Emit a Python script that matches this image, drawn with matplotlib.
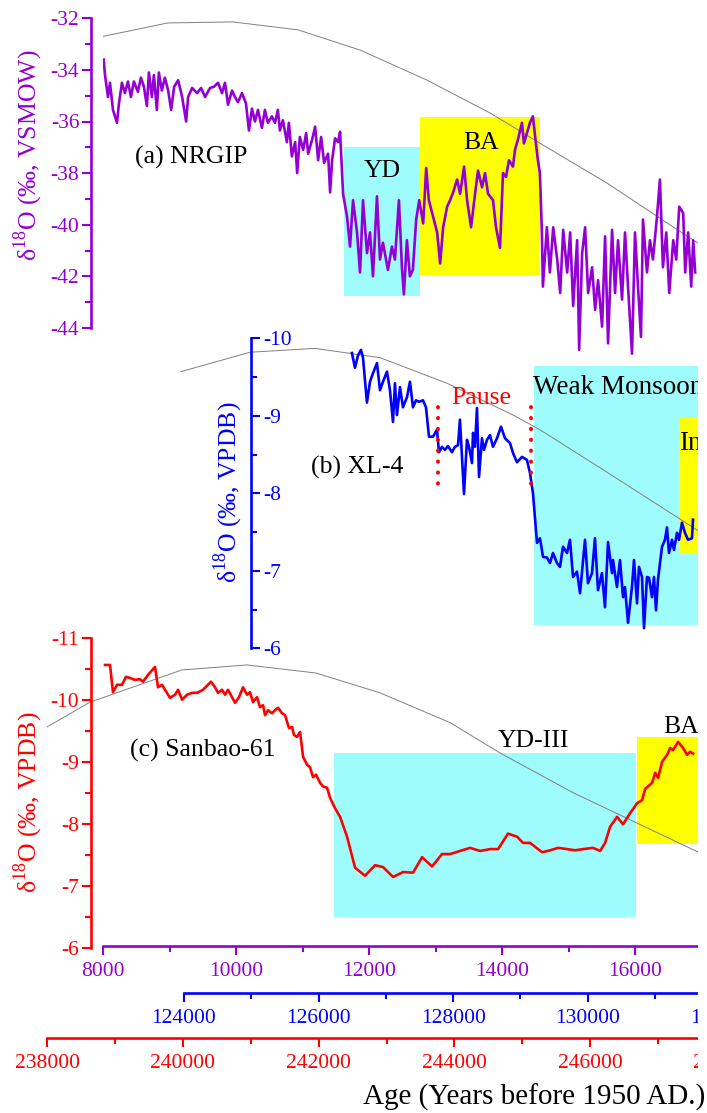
import matplotlib as mpl

mpl.use("Agg")
import matplotlib.pyplot as plt
import numpy as np
from matplotlib.patches import Rectangle
from matplotlib.ticker import FixedLocator

plt.rcParams["font.family"] = ["Liberation Serif", "DejaVu Serif"]
plt.rcParams["mathtext.fontset"] = "custom"
plt.rcParams["mathtext.rm"] = "Liberation Serif"
plt.rcParams["axes.unicode_minus"] = False

PURPLE = "#9400d3"
BLUE = "#0000ff"
RED = "#ff0000"
CYAN = "#9ffcfc"
YELLOW = "#ffff00"
GREY = "#808080"

# (a) NGRIP ice core, years BP
ngrip_age = [
    8010, 8030, 8075, 8105, 8150, 8210, 8240, 8285, 8330, 8375, 8420, 8465, 8525,
    8570, 8615, 8660, 8690, 8735, 8765, 8810, 8840, 8885, 8930, 8980, 9025, 9070,
    9130, 9190, 9250, 9280, 9340, 9415, 9475, 9535, 9610, 9670, 9730, 9790, 9835,
    9880, 9940, 9985, 10030, 10090, 10150, 10195, 10240, 10285, 10330, 10390,
    10435, 10480, 10540, 10585, 10630, 10660, 10705, 10765, 10795, 10840, 10890,
    10920, 10960, 11010, 11055, 11085, 11145, 11190, 11235, 11280, 11325, 11385,
    11415, 11445, 11490, 11535, 11565, 11610, 11670, 11715, 11760, 11820, 11865,
    11910, 11970, 12015, 12060, 12120, 12165, 12210, 12285, 12345, 12390, 12450,
    12495, 12525, 12570, 12615, 12660, 12710, 12755, 12815, 12860, 12900, 12965,
    13025, 13070, 13115, 13175, 13220, 13265, 13325, 13370, 13430, 13475, 13535,
    13595, 13640, 13700, 13745, 13790, 13865, 13910, 13970, 14015, 14060, 14105,
    14165, 14195, 14240, 14300, 14330, 14375, 14420, 14465, 14510, 14540, 14570,
    14600, 14615, 14675, 14720, 14770, 14830, 14875, 14920, 14980, 15025, 15070,
    15130, 15160, 15205, 15250, 15295, 15355, 15400, 15445, 15505, 15550, 15595,
    15655, 15700, 15745, 15805, 15850, 15895, 15955, 16000, 16045, 16090, 16120,
    16180, 16225, 16270, 16330, 16375, 16420, 16470, 16515, 16575, 16620, 16665,
    16725, 16755, 16800, 16845, 16875, 16905,
]
ngrip_d18o = [
    -33.6, -34.2, -35.05, -34.5, -35.55, -36.05, -35.3, -34.5, -34.9, -34.45, -35.05,
    -34.45, -34.85, -34.3, -34.65, -35.4, -34.1, -35.05, -34.2, -35.55, -34.1, -34.8,
    -34.3, -34.8, -35.55, -34.65, -34.4, -35.05, -36.0, -35.05, -34.7, -34.9, -34.7,
    -35.05, -34.7, -34.65, -34.5, -34.9, -34.5, -35.35, -34.8, -35.05, -35.25, -34.9,
    -35.3, -36.35, -35.5, -36.0, -35.55, -36.25, -35.55, -36.05, -35.8, -36.05,
    -35.55, -36.35, -35.95, -36.8, -36.05, -37.35, -36.8, -38.0, -36.6, -37.1,
    -36.45, -37.25, -36.7, -36.2, -37.5, -36.6, -37.6, -37.25, -38.75, -37.5, -36.65,
    -36.8, -36.4, -38.8, -39.7, -40.85, -39.05, -40.3, -41.85, -39.05, -41.1, -40.3,
    -42.0, -38.9, -41.35, -40.7, -41.75, -40.85, -41.35, -39.05, -41.65, -42.7,
    -40.6, -42.0, -41.75, -39.8, -39.05, -39.95, -37.8, -39.05, -39.7, -40.3, -41.5,
    -40.1, -39.3, -39.05, -38.75, -38.25, -38.8, -37.75, -39.05, -40.1, -38.8, -37.9,
    -38.55, -38.0, -38.8, -39.05, -40.1, -40.9, -38.0, -38.15, -37.5, -37.75, -37.1,
    -36.7, -36.05, -36.85, -36.45, -36.05, -35.8, -36.85, -37.5, -38.0, -40.3, -42.4,
    -40.1, -41.85, -40.1, -41.35, -42.65, -40.2, -41.85, -40.3, -43.15, -40.6, -44.85,
    -41.1, -40.1, -42.65, -41.65, -43.3, -42.15, -43.95, -40.45, -44.6, -40.2, -42.65,
    -40.6, -42.9, -40.3, -42.4, -45.0, -40.3, -42.4, -44.35, -39.8, -41.85, -40.6,
    -41.35, -39.7, -38.25, -41.65, -40.3, -42.65, -40.6, -41.35, -39.3, -39.55,
    -41.85, -40.3, -42.4, -40.6, -41.85,
]
ngrip_ins_age = [8000, 8975, 9955, 10935, 11865, 12875, 13820, 14570, 15580, 16575, 17000]
ngrip_ins = [-32.7, -32.18, -32.14, -32.45, -33.23, -34.4, -35.67, -36.84, -38.39, -40.09, -40.8]

# (b) XL-4 stalagmite
xl4_age = [
    126496, 126541, 126586, 126630, 126660, 126719, 126764, 126809, 126868, 126913,
    126957, 127017, 127061, 127106, 127135, 127165, 127210, 127254, 127314, 127358,
    127403, 127448, 127492, 127552, 127596, 127641, 127700, 127760, 127789, 127834,
    127878, 127923, 127982, 128027, 128072, 128101, 128161, 128205, 128235, 128280,
    128295, 128324, 128354, 128384, 128428, 128458, 128503, 128547, 128592, 128651,
    128711, 128770, 128844, 128889, 128948, 129023, 129097, 129142, 129186, 129246,
    129290, 129335, 129394, 129439, 129483, 129543, 129587, 129632, 129691, 129736,
    129781, 129840, 129885, 129959, 130003, 130063, 130107, 130152, 130211, 130256,
    130301, 130360, 130375, 130434, 130479, 130524, 130553, 130598, 130657, 130687,
    130732, 130761, 130806, 130836, 130880, 130910, 130954, 130984, 131014, 131043,
    131103, 131147, 131177, 131207, 131252, 131281, 131326, 131356, 131400, 131445,
    131490, 131549, 131564,
]
xl4_d18o = [
    -9.81, -9.62, -9.78, -9.85, -9.75, -9.17, -9.44, -9.55, -9.68, -9.33, -9.44, -9.57,
    -9.33, -8.92, -9.42, -9.01, -9.37, -9.11, -9.24, -9.44, -9.11, -9.20, -9.18, -9.20,
    -9.11, -8.73, -8.73, -8.82, -8.53, -8.60, -8.56, -8.61, -8.53, -8.60, -8.62, -8.95,
    -7.99, -8.69, -8.60, -8.39, -8.78, -8.60, -9.10, -8.21, -8.71, -8.56, -8.69, -8.75,
    -8.60, -8.71, -8.86, -8.71, -8.65, -8.52, -8.40, -8.47, -8.43, -8.26, -8.00, -7.36,
    -7.42, -7.18, -7.17, -7.10, -7.23, -7.10, -7.05, -7.31, -7.23, -7.40, -6.92, -6.99,
    -6.71, -7.40, -6.84, -6.97, -7.42, -6.75, -6.97, -6.53, -7.37, -6.97, -7.14, -6.79,
    -7.14, -6.66, -6.79, -6.33, -6.79, -7.14, -6.58, -7.05, -6.92, -6.26, -6.92, -6.91,
    -6.66, -6.92, -6.49, -6.88, -7.31, -7.40, -7.56, -7.23, -7.40, -7.27, -7.49, -7.40,
    -7.62, -7.49, -7.40, -7.42, -7.66,
]
xl4_ins_age = [123955, 124981, 125947, 126913, 127908, 128889, 129290, 130182, 131564, 131700]
xl4_ins = [-9.57, -9.82, -9.87, -9.75, -9.42, -9.01, -8.82, -8.33, -7.56, -7.48]
pause_ages = [127775, 129157]

# (c) Sanbao-61 stalagmite
sb61_age = [
    238854, 238928, 238972, 239031, 239105, 239164, 239223, 239296, 239370, 239414,
    239488, 239591, 239635, 239694, 239738, 239812, 239885, 239930, 239989, 240062,
    240136, 240210, 240298, 240416, 240475, 240519, 240578, 240622, 240666, 240725,
    240769, 240828, 240887, 240946, 240990, 241034, 241093, 241137, 241182, 241211,
    241255, 241314, 241358, 241403, 241462, 241506, 241565, 241609, 241638, 241683,
    241727, 241771, 241830, 241874, 241918, 241962, 242021, 242065, 242124, 242168,
    242242, 242316, 242419, 242537, 242684, 242831, 242949, 243097, 243244, 243391,
    243524, 243671, 243818, 243936, 244083, 244231, 244378, 244525, 244643, 244790,
    244923, 245011, 245115, 245291, 245409, 245527, 245660, 245777, 245895, 246042,
    246146, 246219, 246293, 246396, 246484, 246588, 246691, 246764, 246809, 246912,
    246956, 247000, 247059, 247133, 247177, 247221, 247295, 247368, 247427, 247471,
    247516,
]
sb61_d18o = [
    -10.57, -10.57, -10.13, -10.25, -10.25, -10.38, -10.36, -10.33, -10.34, -10.30,
    -10.41, -10.54, -10.21, -10.25, -10.17, -10.04, -10.09, -10.17, -10.01, -10.09,
    -10.12, -10.12, -10.17, -10.30, -10.21, -10.12, -10.17, -10.09, -10.17, -10.05,
    -9.96, -10.05, -10.21, -10.09, -10.13, -9.97, -10.05, -9.89, -9.92, -9.76, -9.84,
    -9.79, -9.84, -9.88, -9.79, -9.76, -9.55, -9.57, -9.44, -9.41, -9.49, -9.09, -8.96,
    -8.92, -8.76, -8.80, -8.67, -8.61, -8.59, -8.43, -8.26, -8.12, -7.80, -7.30, -7.17,
    -7.34, -7.31, -7.15, -7.23, -7.22, -7.47, -7.32, -7.52, -7.52, -7.57, -7.62, -7.57,
    -7.60, -7.60, -7.85, -7.80, -7.70, -7.70, -7.55, -7.58, -7.62, -7.60, -7.58, -7.60,
    -7.62, -7.57, -7.70, -7.96, -8.12, -8.00, -8.18, -8.34, -8.39, -8.57, -8.67, -8.83,
    -8.75, -9.01, -9.12, -9.23, -9.20, -9.33, -9.23, -9.12, -9.17, -9.14,
]
sb61_ins_age = [238000, 238633, 239988, 240946, 241962, 242905, 243936, 244673, 245748, 247516, 247700]
sb61_ins = [-9.57, -9.97, -10.49, -10.57, -10.44, -10.12, -9.64, -9.15, -8.51, -7.59, -7.50]

# shaded intervals: (start age, end age, bottom value, top value)
ngrip_boxes = [(11625, 12768, -42.76, -36.99, CYAN), (12768, 14570, -41.95, -35.83, YELLOW)]
xl4_boxes = [(129201, 134000, -6.3, -9.64, CYAN), (131356, 134000, -7.23, -8.97, YELLOW)]
sb61_boxes = [(242227, 246676, -6.5, -9.15, CYAN), (246691, 250000, -7.68, -9.41, YELLOW)]

W, H = 707, 1113
fig = plt.figure(figsize=(W / 100, H / 100), dpi=100)


def px_axes(x0, y0, x1, y1):
    ax = fig.add_axes([x0 / W, 1 - y1 / H, (x1 - x0) / W, (y1 - y0) / H])
    ax.patch.set_visible(False)
    for side in ["top", "right", "bottom", "left"]:
        ax.spines[side].set_visible(False)
    return ax


def style_y(ax, side, color, major, lo, hi):
    ylim = ax.get_ylim()
    sp = ax.spines[side]
    sp.set_visible(True)
    sp.set_color(color)
    sp.set_linewidth(1.9)
    sp.set_bounds(lo, hi)
    ax.yaxis.set_major_locator(FixedLocator(np.arange(lo, hi + 0.01, major)))
    ax.yaxis.set_minor_locator(FixedLocator(np.arange(lo, hi + 0.01, major / 2)))
    ax.tick_params(axis="y", which="both", colors=color, width=1.5, direction="out",
                   labelsize=15.5, pad=2)
    ax.tick_params(axis="y", which="major", length=6.5)
    ax.tick_params(axis="y", which="minor", length=4.5)
    ax.set_xticks([])
    ax.set_ylim(ylim)


def x_axis(x0, x1, y, lims, start, color):
    ax = px_axes(x0, y - 1, x1, y)
    ax.set_yticks([])
    sp = ax.spines["bottom"]
    sp.set_visible(True)
    sp.set_color(color)
    sp.set_linewidth(1.9)
    sp.set_bounds(start, lims[1])
    ax.xaxis.set_major_locator(FixedLocator(np.arange(start, lims[1] + 1, 2000)))
    ax.xaxis.set_minor_locator(FixedLocator(np.arange(start, lims[1] + 1, 1000)))
    ax.xaxis.set_major_formatter(lambda v, pos: f"{v:.0f}")
    ax.tick_params(axis="x", which="both", colors=color, width=1.5, direction="out",
                   labelsize=15.5, pad=5)
    ax.tick_params(axis="x", which="major", length=6.5)
    ax.tick_params(axis="x", which="minor", length=4.5)
    ax.set_xlim(*lims)
    return ax


def boxes(ax, spans):
    for a0, a1, v0, v1, col in spans:
        ax.add_patch(Rectangle((a0, v0), a1 - a0, v1 - v0, facecolor=col,
                               edgecolor="none", zorder=0))


def label(ax, x, y, s, size=18.5, **kw):
    # positions given in picture pixels from the top-left corner
    ax.text(x, H - y, s, transform=None, fontsize=size, ha=kw.pop("ha", "center"),
            va="center", **kw)


# ---- panel (c) Sanbao-61
axc = px_axes(47, 638.3, 47 + 67.9 * 10, 948.3)
axc.set_xlim(238000, 248000)
axc.set_ylim(-6, -11)
boxes(axc, sb61_boxes)
axc.plot(sb61_ins_age, sb61_ins, color=GREY, lw=0.7, zorder=2)
axc.plot(sb61_age, sb61_d18o, color=RED, lw=1.9, zorder=3)
style_y(axc, "left", RED, 1, -11, -6)
axc.spines["left"].set_position(("data", 238650))
label(axc, 203, 750, "(c) Sanbao-61")
label(axc, 533, 741, "YD-III")
label(axc, 663, 727, "BA", ha="left")

# ---- panel (b) XL-4
axb = px_axes(170.5, 338.3, 170.5 + 67.3 * 9.2, 648.3)
axb.set_xlim(123800, 133000)
axb.set_ylim(-6, -10)
boxes(axb, xl4_boxes)
axb.plot(xl4_ins_age, xl4_ins, color=GREY, lw=0.7, zorder=2)
axb.plot(xl4_age, xl4_d18o, color=BLUE, lw=1.9, zorder=3)
for a in pause_ages:
    axb.plot([a, a], [-9.11, -8.11], color=RED, lw=2.8, ls=(0, (0.1, 2.7)),
             dash_capstyle="round", zorder=4)
style_y(axb, "right", BLUE, 1, -10, -6)
axb.yaxis.tick_right()
axb.spines["right"].set_position(("data", 125000))
label(axb, 357, 467, "(b) XL-4")
label(axb, 481, 398, "Pause", color=RED)
label(axb, 533, 387, "Weak Monsoon", size=19.5, ha="left")
label(axb, 679, 443, "Interstadial", size=19.5, ha="left")

# ---- panel (a) NGRIP
axa = px_axes(103, 18.3, 103 + 66.5 * 10, 18.3 + 13.5 * 25.8)
axa.set_xlim(8000, 18000)
axa.set_ylim(-45.5, -32)
boxes(axa, ngrip_boxes)
axa.plot(ngrip_ins_age, ngrip_ins, color=GREY, lw=0.7, zorder=2)
axa.plot(ngrip_age, ngrip_d18o, color=PURPLE, lw=1.9, zorder=3)
style_y(axa, "left", PURPLE, 2, -44, -32)
axa.spines["left"].set_position(("outward", 8.6))
label(axa, 191, 157, "(a) NRGIP")
label(axa, 382, 171, "YD")
label(axa, 481, 143, "BA")

# ---- age axes
x_axis(103, 103 + 66.5 * 10, 946, (8000, 18000), 8000, PURPLE)
x_axis(170.5, 170.5 + 67.3 * 9.2, 993, (123800, 133000), 124000, BLUE)
x_axis(47, 47 + 67.9 * 10, 1038, (238000, 248000), 238000, RED)

# axis titles
d18o = "δ$^{18}$O (‰, "
fig.text(28 / W, 1 - 155 / H, d18o + "VSMOW)", color=PURPLE, fontsize=18.5,
         rotation=90, ha="center", va="center")
fig.text(228 / W, 1 - 492 / H, d18o + "VPDB)", color=BLUE, fontsize=18.5,
         rotation=90, ha="center", va="center")
fig.text(28 / W, 1 - 802 / H, d18o + "VPDB)", color=RED, fontsize=18.5,
         rotation=90, ha="center", va="center")
age_lab = fig.text(705 / W, 1 - 1097 / H, "Age (Years before 1950 AD.)", fontsize=21,
                   ha="right", va="center")

# the source figure is cut off at the right edge
fig.patches.append(Rectangle((698 / W, 0), 20 / W, 1, transform=fig.transFigure,
                             facecolor="white", edgecolor="none", zorder=10))
age_lab.set_zorder(11)

fig.savefig("out.png", dpi=100)
plt.close(fig)
